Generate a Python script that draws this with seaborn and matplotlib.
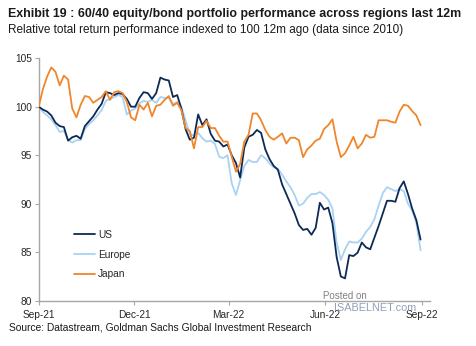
import numpy as np
import pandas as pd
import matplotlib
matplotlib.use("Agg")
import matplotlib.pyplot as plt
import seaborn as sns

# Relative total return of 60/40 portfolios, indexed to 100 (sampled every 4 days)
dates = pd.date_range("2021-09-01", periods=92, freq="4D")

us = [100.0, 99.7, 99.5, 99.1, 98.35, 98.0, 97.9, 96.5, 96.85, 97.0,
      96.7, 98.0, 98.5, 99.0, 99.7, 100.3, 101.5, 101.4, 101.2, 101.4,
      101.3, 100.8, 100.0, 100.0, 100.9, 101.5, 101.4, 100.8, 101.4, 103.0,
      102.8, 102.7, 101.0, 101.2, 99.8, 97.7, 96.6, 96.8, 99.2, 98.1,
      98.7, 97.2, 96.5, 96.4, 95.9, 96.1, 95.0, 94.2, 92.7, 95.8,
      96.9, 97.1, 97.6, 97.3, 95.6, 94.6, 93.9, 93.5, 92.0, 91.0,
      90.0, 89.0, 87.8, 87.3, 87.4, 86.8, 87.5, 90.1, 89.4, 89.6,
      88.0, 84.5, 82.5, 82.3, 84.7, 84.6, 84.95, 86.0, 85.5, 85.3,
      86.5, 87.7, 89.0, 90.3, 90.3, 90.2, 91.6, 92.3, 91.0, 89.5,
      88.3, 86.3]

europe = [100.0, 99.45, 99.1, 98.7, 98.1, 97.4, 97.5, 96.6, 96.3, 96.55,
          96.55, 97.7, 98.2, 98.6, 99.1, 99.65, 100.6, 100.8, 101.0, 101.2,
          101.0, 99.2, 99.6, 99.8, 100.35, 100.6, 100.5, 100.7, 100.4, 101.0,
          100.9, 100.9, 100.25, 100.5, 100.0, 98.6, 97.2, 97.0, 97.3, 96.75,
          96.4, 96.5, 96.15, 94.85, 94.7, 95.0, 92.1, 90.9, 92.4, 93.9,
          94.5, 94.3, 94.3, 95.0, 94.7, 94.15, 93.75, 93.6, 93.0, 92.3,
          91.7, 90.9, 89.8, 90.0, 90.6, 91.0, 91.0, 91.2, 90.9, 90.4,
          89.5, 86.0, 84.2, 85.3, 86.1, 86.0, 86.0, 86.4, 87.1, 87.6,
          88.4, 89.8, 91.1, 91.7, 91.5, 91.3, 91.5, 91.3, 90.0, 89.3,
          88.0, 85.2]

japan = [100.0, 101.8, 103.1, 104.05, 103.6, 102.2, 103.2, 102.8, 99.8, 98.9,
         100.2, 101.1, 101.0, 100.4, 100.7, 101.0, 101.6, 100.7, 101.5, 101.6,
         101.4, 100.5, 98.9, 98.6, 100.2, 99.7, 100.4, 99.0, 100.1, 100.2,
         100.7, 101.1, 100.1, 100.4, 99.65, 97.8, 97.5, 95.7, 97.9, 97.9,
         98.55, 97.8, 97.8, 97.0, 96.4, 96.4, 94.85, 93.3, 94.1, 96.4,
         97.1, 99.3, 99.3, 98.6, 97.6, 96.9, 96.6, 96.9, 97.25, 96.2,
         96.8, 96.8, 96.55, 94.8, 95.6, 96.0, 96.5, 96.7, 97.7, 98.1,
         98.7, 96.4, 94.8, 95.2, 96.0, 96.9, 95.7, 96.2, 97.1, 96.8,
         96.9, 98.6, 98.6, 98.6, 98.45, 98.35, 99.5, 100.2, 100.1, 99.55,
         99.1, 98.1]

regions = ["US", "Europe", "Japan"]
colors = ["#0c2a55", "#a9d2f3", "#f0862c"]
tick_dates = ["2021-09-01", "2021-12-01", "2022-03-01", "2022-06-01", "2022-09-01"]
tick_labels = ["Sep-21", "Dec-21", "Mar-22", "Jun-22", "Sep-22"]
y_ticks = [80, 85, 90, 95, 100, 105]

title = "Exhibit 19 : 60/40 equity/bond portfolio performance across regions last 12m"
subtitle = "Relative total return performance indexed to 100 12m ago (data since 2010)"
source = "Source: Datastream, Goldman Sachs Global Investment Research"

df = pd.concat(
    [pd.DataFrame({"date": dates, "value": vals, "region": name})
     for name, vals in zip(regions, [us, europe, japan])],
    ignore_index=True,
)

sns.set_style("white")
plt.rcParams["font.family"] = ["Liberation Sans", "DejaVu Sans"]

W, H = 477, 346
fig = plt.figure(figsize=(W / 100, H / 100), dpi=100)
ax = fig.add_axes([38.7 / W, 1 - 300.7 / H, (430 - 38.7) / W, (300.7 - 58.2) / H])

sns.lineplot(data=df, x="date", y="value", hue="region", hue_order=regions,
             palette=dict(zip(regions, colors)), linewidth=1.3, ax=ax)
for line, z in zip(ax.lines, [3, 2, 4]):
    line.set_zorder(z)

ax.set_ylim(80, 105)
ax.set_xlim(pd.Timestamp("2021-09-01"), pd.Timestamp("2022-09-09"))
ax.set_yticks(y_ticks)
ax.set_xticks(pd.to_datetime(tick_dates))
ax.set_xticklabels(tick_labels)
ax.set_xlabel("")
ax.set_ylabel("")

for side in ["top", "right"]:
    ax.spines[side].set_visible(False)
for side in ["left", "bottom"]:
    ax.spines[side].set_color("#a6a6a6")
    ax.spines[side].set_linewidth(1.0)
ax.tick_params(axis="both", which="major", length=3, width=0.8, color="#a6a6a6",
               labelsize=7.3, labelcolor="#262626", direction="out")
ax.tick_params(axis="y", pad=2)
ax.tick_params(axis="x", pad=4)
ax.tick_params(left=True, bottom=True)

handles, labels = ax.get_legend_handles_labels()
ax.legend(handles, labels, loc="center left", bbox_to_anchor=(0.066, 0.19),
          frameon=False, fontsize=7.3, handlelength=2.1, handletextpad=0.3,
          labelspacing=0.95, borderpad=0.4)

# Header and footer text
cond = ["Liberation Sans Narrow", "Liberation Sans", "DejaVu Sans"]
renderer = fig.canvas.get_renderer()


def fitted_text(x, y, s, width_px, weight="normal", size=10):
    t = fig.text(x / W, 1 - y / H, s, fontsize=size, fontweight=weight,
                 family=cond, color="#1a1a1a", va="baseline", ha="left")
    w = t.get_window_extent(renderer=renderer).width
    t.set_fontsize(size * width_px / w)
    return t


fitted_text(8, 16.5, title, 450, weight="bold")
fitted_text(8, 33.5, subtitle, 395)
fitted_text(9, 331, source, 304)

fig.text(345 / W, 1 - 296 / H, "Posted on", fontsize=7, color="#808080",
         ha="center", va="center")
fig.text(375 / W, 1 - 308 / H, "ISABELNET.com", fontsize=7.8, color="#8fa0b8",
         ha="center", va="center")

fig.savefig("out.png", dpi=100)
